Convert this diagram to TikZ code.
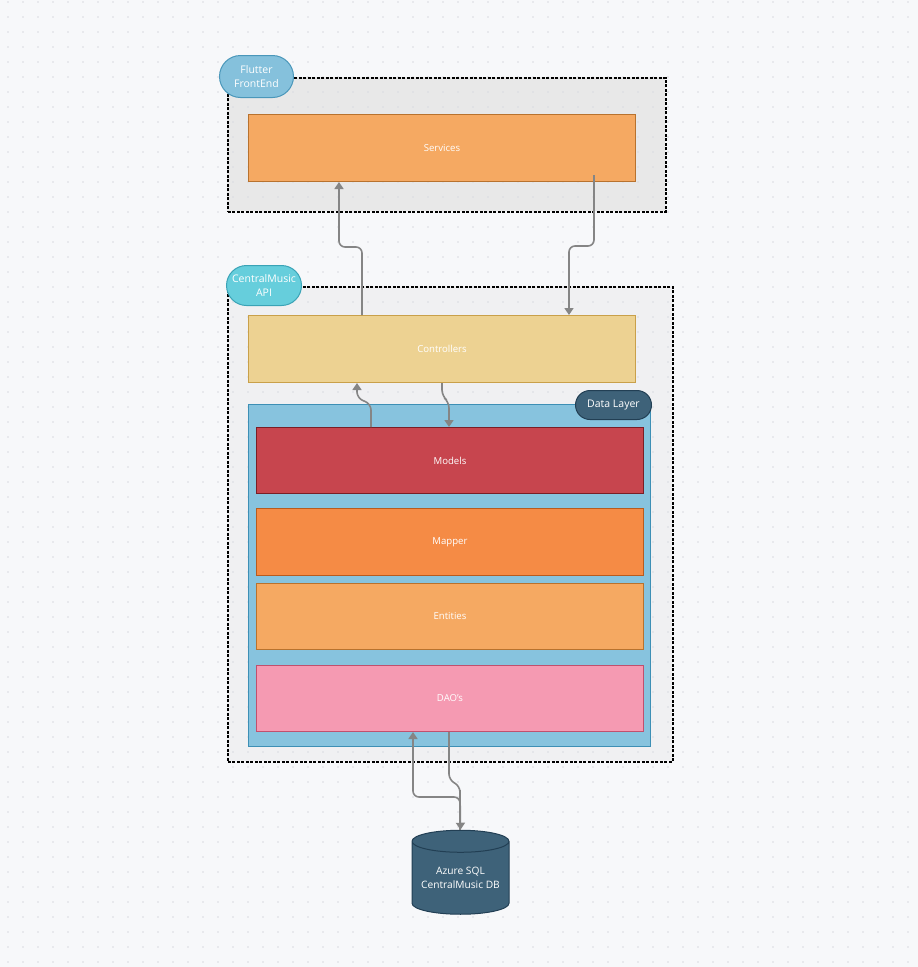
\documentclass[tikz,border=0pt]{standalone}
\usepackage{fontspec}
\setmainfont{Open Sans}
\usetikzlibrary{arrows.meta,shapes.geometric,calc}
\definecolor{bgc}{HTML}{F7F8FA}
\definecolor{dotc}{HTML}{D9DAE0}
\definecolor{frameA}{HTML}{E8E8E8}
\definecolor{frameB}{HTML}{F0F0F2}
\definecolor{flutF}{HTML}{85C1DC}\definecolor{flutD}{HTML}{4A97BA}
\definecolor{apiF}{HTML}{66CEDC}\definecolor{apiD}{HTML}{3AA3B6}
\definecolor{servF}{HTML}{F5A962}\definecolor{servD}{HTML}{B8722E}
\definecolor{ctrlF}{HTML}{EDD292}\definecolor{ctrlD}{HTML}{C9A04A}
\definecolor{dlF}{HTML}{87C3DE}\definecolor{dlD}{HTML}{3D8FB5}
\definecolor{darkF}{HTML}{3E6279}\definecolor{darkD}{HTML}{223F54}
\definecolor{modF}{HTML}{C7454E}\definecolor{modD}{HTML}{7A1E26}
\definecolor{mapF}{HTML}{F58B45}\definecolor{mapD}{HTML}{B85B1E}
\definecolor{daoF}{HTML}{F59AB2}\definecolor{daoD}{HTML}{C0506E}
\definecolor{arrc}{HTML}{858585}
\tikzset{
  txt/.style={text=white,font=\fontsize{9.6}{12}\selectfont,align=center},
  frame/.style={draw=black,line width=1.6pt,dash pattern=on 3pt off 1.5pt,anchor=north west,inner sep=0pt},
  box/.style={txt,draw,line width=1pt,anchor=north west,inner sep=0pt,minimum width=387pt,minimum height=67pt},
  pill/.style={txt,draw,line width=1pt,rounded corners=#1,inner sep=0pt,anchor=north west,font=\fontsize{10.5}{13.5}\selectfont},
  arr/.style={draw=arrc,line width=1.6pt,rounded corners=6pt,-{Triangle[width=9pt,length=7pt]}},
  ln/.style={draw=arrc,line width=1.6pt,rounded corners=6pt}
}
\begin{document}
\begin{tikzpicture}[x=1pt,y=-1pt]
\useasboundingbox (0,0) rectangle (918,967);
\fill[bgc] (0,0) rectangle (918,967);
% frames (fills)
\fill[frameA] (227,77) rectangle (665,211);
\fill[frameB] (227,286) rectangle (672,761);
% dot grid
\foreach \i in {0,...,61}{\foreach \j in {0,...,64}{\fill[dotc] (8+15*\i,2+15*\j) circle (0.8pt);}}
% frame outlines
\node[frame,minimum width=438pt,minimum height=134pt] (flutframe) at (227,77) {};
\node[frame,minimum width=445pt,minimum height=475pt] (apiframe) at (227,286) {};
% labels
\node[pill=21pt,fill=flutF,draw=flutD,minimum width=74pt,minimum height=42pt] (flutlbl) at (219,55) {Flutter\\FrontEnd};
\node[pill=20pt,fill=apiF,draw=apiD,minimum width=75pt,minimum height=40pt] (apilbl) at (226,265) {CentralMusic\\API};
% boxes
\node[box,fill=servF,draw=servD] (services) at (248,114) {Services};
\node[box,fill=ctrlF,draw=ctrlD] (controllers) at (248,315) {Controllers};
\node[draw=dlD,fill=dlF,line width=1pt,anchor=north west,inner sep=0pt,minimum width=402pt,minimum height=342pt] (datalayer) at (248,404) {};
\node[pill=14.5pt,fill=darkF,draw=darkD,minimum width=76pt,minimum height=29pt] (dllbl) at (575,390) {Data Layer};
\node[box,fill=modF,draw=modD,minimum height=66pt] (models) at (256,427) {Models};
\node[box,fill=mapF,draw=mapD] (mapper) at (256,508) {Mapper};
\node[box,fill=servF,draw=servD,minimum height=66pt] (entities) at (256,583) {Entities};
\node[box,fill=daoF,draw=daoD,minimum height=66pt] (daos) at (256,665) {DAO's};
% database
\node[txt,cylinder,shape border rotate=90,aspect=0.28,draw=darkD,fill=darkF,line width=1pt,
  minimum width=97pt,minimum height=84pt,inner sep=0pt,font=\fontsize{10.2}{14}\selectfont] (db) at (460.5,878) {Azure SQL\\CentralMusic DB};
% connectors
\draw[arr] (362,0 |- controllers.north) -- (362,247) -- (339,247) -- (339,0 |- services.south);
\draw[arr] (594,175) -- (594,246) -- (569,246) -- (569,0 |- controllers.north);
\draw[arr] (371,0 |- models.north) -- (371,404) -- (357,398) -- (357,0 |- controllers.south);
\draw[arr] (442,0 |- controllers.south) -- (442,396) -- (449,402) -- (449,0 |- models.north);
\draw[ln] (449,0 |- daos.south) -- (449,780) -- (460,786) -- (460,800);
\draw[arr] (460,0 |- db.top) -- (460,797) -- (413,797) -- (413,0 |- daos.south);
\draw[arr] (460,790) -- (db.top);
\end{tikzpicture}
\end{document}
